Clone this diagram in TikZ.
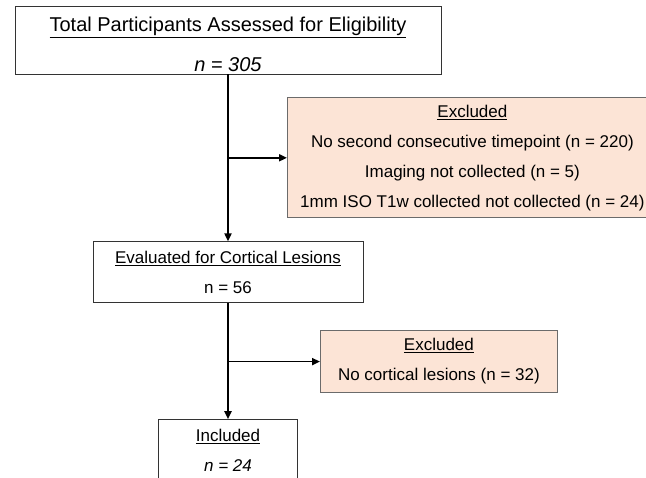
\documentclass[tikz,border=0pt]{standalone}
\usepackage{fontspec}
\setmainfont{Liberation Sans}
\usepackage{xcolor}
\usetikzlibrary{positioning, arrows.meta}
\definecolor{exclfill}{HTML}{FCE4D6}
\definecolor{exclline}{HTML}{6B6B6B}

\begin{document}
\begin{tikzpicture}[->, >={Triangle[length=8pt,width=7pt]}, line width=1.8pt,
		box/.style={draw=black!80, line width=0.8pt, inner sep=0pt, align=center, font=\fontsize{17}{30}\selectfont},
		exclbox/.style={box, fill=exclfill, draw=exclline}]
			\useasboundingbox (0,0) rectangle (646pt,-478pt);
			
			\node[box, minimum width=426pt, minimum height=68pt, font=\fontsize{20}{40}\selectfont] (total) at (228pt,-40pt) {\rule{0pt}{24pt}\underline{Total Participants Assessed for Eligibility}\\\textit{n = 305}};
			
			\node[exclbox, anchor=north west, minimum width=370pt, minimum height=120pt, below right = 23pt and 59pt of total.south] (excl1) {\underline{Excluded}\\No second consecutive timepoint (n = 220)\\Imaging not collected (n = 5)\\1mm ISO T1w collected not collected (n = 24)};
			
			\node[box, minimum width=270pt, minimum height=61pt, below = 167pt of total] (eval) {\underline{Evaluated for Cortical Lesions}\\n = 56};
			\draw (total.south) -- (eval.north);
			
			\coordinate (b1) at (total.south |- excl1.west);
			\draw (b1) -- (excl1.west);
			
			\node[exclbox, anchor=north west, minimum width=237pt, minimum height=62pt, below right = 27pt and 92pt of eval.south] (excl2) {\underline{Excluded}\\No cortical lesions (n = 32)};
			
			\node[box, minimum width=139pt, minimum height=62pt, below = 116pt of eval] (incl) {\underline{Included}\\\textit{n = 24}};
			\draw (eval.south) -- (incl.north);
			
			\coordinate (b2) at (eval.south |- excl2.west);
			\draw (b2) -- (excl2.west);
	\end{tikzpicture}
\end{document}
